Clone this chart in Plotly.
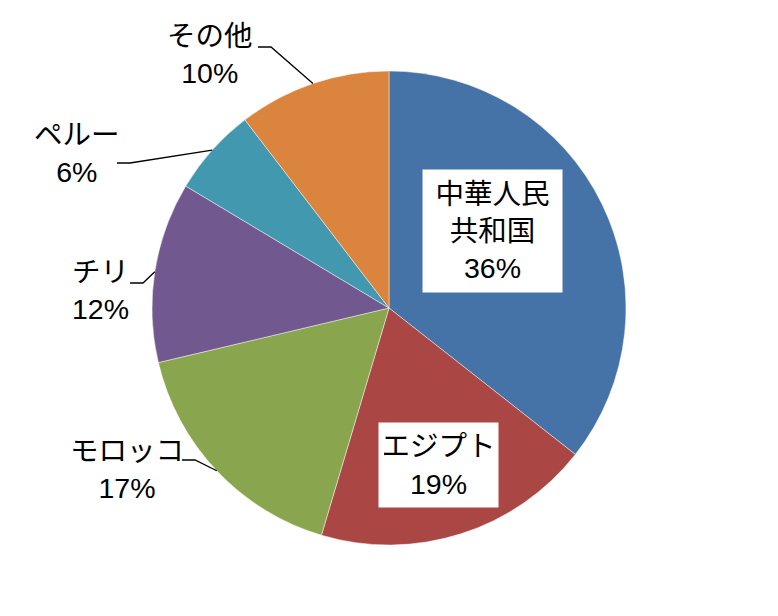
import math
import plotly.graph_objects as go

# データ(構成比 %)
labels = ['中華人民共和国', 'エジプト', 'モロッコ', 'チリ', 'ペルー', 'その他']
label_text = ['中華人民<br>共和国', 'エジプト', 'モロッコ', 'チリ', 'ペルー', 'その他']
values = [35.6, 19.0, 16.7, 12.3, 6.0, 10.4]
colors = ['#4572A7', '#AA4643', '#89A54E', '#71588F', '#4198AF', '#DB843D']

W, H = 778, 616
CX, CY, R = 389, 308, 237   # 円の中心と半径(px)
FONT = 'Liberation Sans, Arial, "Noto Sans CJK JP", sans-serif'

# ラベル配置(px): 内側ラベルは白い枠付き、外側は引き出し線付き
label_pos = {
    '中華人民共和国': dict(x=492, y=231, inside=True, w=129, h=112),
    'エジプト': dict(x=438, y=465, inside=True, w=109, h=74),
    'モロッコ': dict(x=127, y=469, line=(182, 460)),
    'チリ': dict(x=100, y=290, line=(130, 283)),
    'ペルー': dict(x=77, y=153, line=(117, 163)),
    'その他': dict(x=210, y=54, line=(258, 47)),
}
ELBOW = 13


def px(x):
    return x / W


def py(y):
    return 1 - y / H


fig = go.Figure(go.Pie(
    labels=labels, values=values, sort=False, direction='clockwise',
    rotation=0, textinfo='none', hoverinfo='label+percent',
    marker=dict(colors=colors, line=dict(color='rgba(255,255,255,0.45)', width=1)),
    domain=dict(x=[px(CX - R), px(CX + R)], y=[py(CY + R), py(CY - R)]),
))

total = sum(values)
cum = 0
annotations, shapes = [], []
for lab, txt, v in zip(labels, label_text, values):
    mid = (cum + v / 2) / total * 2 * math.pi
    cum += v
    pos = label_pos[lab]
    text = f'{txt}<br>{round(v / total * 100)}%'
    ann = dict(x=px(pos['x']), y=py(pos['y']), xref='paper', yref='paper',
               text=text, showarrow=False, xanchor='center', yanchor='middle',
               font=dict(family=FONT, size=28.5, color='black'))
    if pos.get('inside'):
        ann.update(bgcolor='white', borderpad=5, width=pos['w'], height=pos['h'])
    else:
        ex = CX + R * math.sin(mid)
        ey = CY - R * math.cos(mid)
        x0, y0 = pos['line']
        shapes.append(dict(
            type='path', xref='paper', yref='paper',
            path=f'M {px(x0)},{py(y0)} L {px(x0 + ELBOW)},{py(y0)} L {px(ex)},{py(ey)}',
            line=dict(color='black', width=1.3)))
    annotations.append(ann)

fig.update_layout(
    width=W, height=H, showlegend=False,
    margin=dict(l=0, r=0, t=0, b=0),
    paper_bgcolor='white', plot_bgcolor='white',
    annotations=annotations, shapes=shapes,
    font=dict(family=FONT),
)

# ページ既定の余白を消して 778x616 に合わせる
fig.write_html('out.html', config=dict(displayModeBar=False),
               post_script="document.body.style.margin='0';")
